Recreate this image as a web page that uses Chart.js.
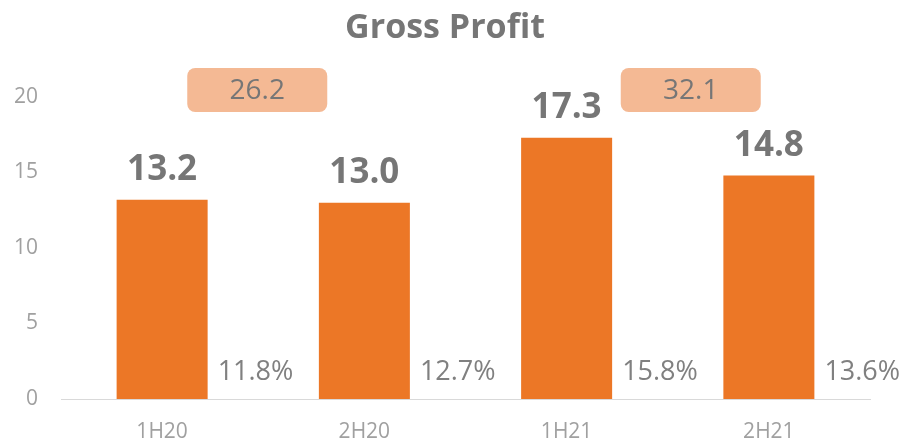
<!DOCTYPE html>
<html>
<head>
<meta charset="utf-8">
<script src="https://cdn.jsdelivr.net/npm/chart.js@4"></script>
<style>
  html, body { margin: 0; padding: 0; background: #fff; }
  #wrap { width: 913px; height: 439px; }
</style>
</head>
<body>
<div id="wrap"><canvas id="grafico"></canvas></div>
<script>
// Dados do gráfico
const periodos = ['1H20', '2H20', '1H21', '2H21'];
const lucroBruto = [13.2, 13.0, 17.3, 14.8];
const margens = ['11.8%', '12.7%', '15.8%', '13.6%'];
const totaisAnuais = [26.2, 32.1];
const yTicks = [0, 5, 10, 15, 20];

const fonte = "'Open Sans', 'Noto Sans', sans-serif";
const cinzaTexto = '#767676';

// Plugin para título, rótulos e caixas de total anual
const rotulosPlugin = {
    id: 'rotulos',
    afterDatasetsDraw(chart) {
        const ctx = chart.ctx;
        const meta = chart.getDatasetMeta(0);
        const x = chart.scales.x;
        const y = chart.scales.y;
        ctx.save();

        // título
        ctx.fillStyle = cinzaTexto;
        ctx.font = `bold 34px ${fonte}`;
        ctx.textAlign = 'center';
        ctx.textBaseline = 'middle';
        ctx.fillText('Gross Profit', 445, 28);

        meta.data.forEach((bar, i) => {
            // valor acima da barra
            ctx.fillStyle = cinzaTexto;
            ctx.font = `bold 35px ${fonte}`;
            ctx.textAlign = 'center';
            ctx.textBaseline = 'alphabetic';
            ctx.fillText(lucroBruto[i].toFixed(1), bar.x, bar.y - 20);

            // margem ao lado da barra
            ctx.font = `27px ${fonte}`;
            ctx.textAlign = 'left';
            ctx.textBaseline = 'middle';
            ctx.fillStyle = '#808080';
            ctx.fillText(margens[i], bar.x + bar.width / 2 + 10, y.getPixelForValue(1.75));
        });

        // caixas com o total anual
        const deslocamento = [-6, 23];
        totaisAnuais.forEach((total, k) => {
            const meio = (x.getPixelForValue(k * 2) + x.getPixelForValue(k * 2 + 1)) / 2 + deslocamento[k];
            const topo = y.getPixelForValue(20) - 29;
            const w = 140, h = 44;
            ctx.fillStyle = '#F4B994';
            ctx.beginPath();
            ctx.roundRect(meio - w / 2, topo, w, h, 8);
            ctx.fill();
            ctx.fillStyle = '#767676';
            ctx.font = `28px ${fonte}`;
            ctx.textAlign = 'center';
            ctx.textBaseline = 'middle';
            ctx.fillText(total.toFixed(1), meio, topo + h / 2 + 1);
        });
        ctx.restore();
    }
};

const ctx = document.getElementById('grafico').getContext('2d');
new Chart(ctx, {
    type: 'bar',
    data: {
        labels: periodos,
        datasets: [{
            label: 'Gross Profit',
            data: lucroBruto,
            backgroundColor: '#EC7726',
            borderWidth: 0,
            categoryPercentage: 1,
            barPercentage: 0.45
        }]
    },
    options: {
        responsive: true,
        maintainAspectRatio: false,
        animation: false,
        layout: { padding: { top: 97, right: 43, left: 0, bottom: 0 } },
        plugins: {
            legend: { display: false },
            tooltip: { enabled: false }
        },
        scales: {
            x: {
                grid: { display: false, drawTicks: false },
                border: { display: true, color: '#d9d9d9', width: 1 },
                ticks: { color: '#a0a0a0', font: { family: fonte, size: 21 }, padding: 20 },
                afterFit: s => { s.height = 40; }
            },
            y: {
                min: 0,
                max: 20,
                afterBuildTicks: s => { s.ticks = yTicks.map(v => ({ value: v })); },
                grid: { display: false, drawTicks: false },
                border: { display: false },
                ticks: { color: '#a0a0a0', font: { family: fonte, size: 21 }, padding: 23 },
                afterFit: s => { s.width = 61; }
            }
        }
    },
    plugins: [rotulosPlugin]
});
</script>
</body>
</html>
